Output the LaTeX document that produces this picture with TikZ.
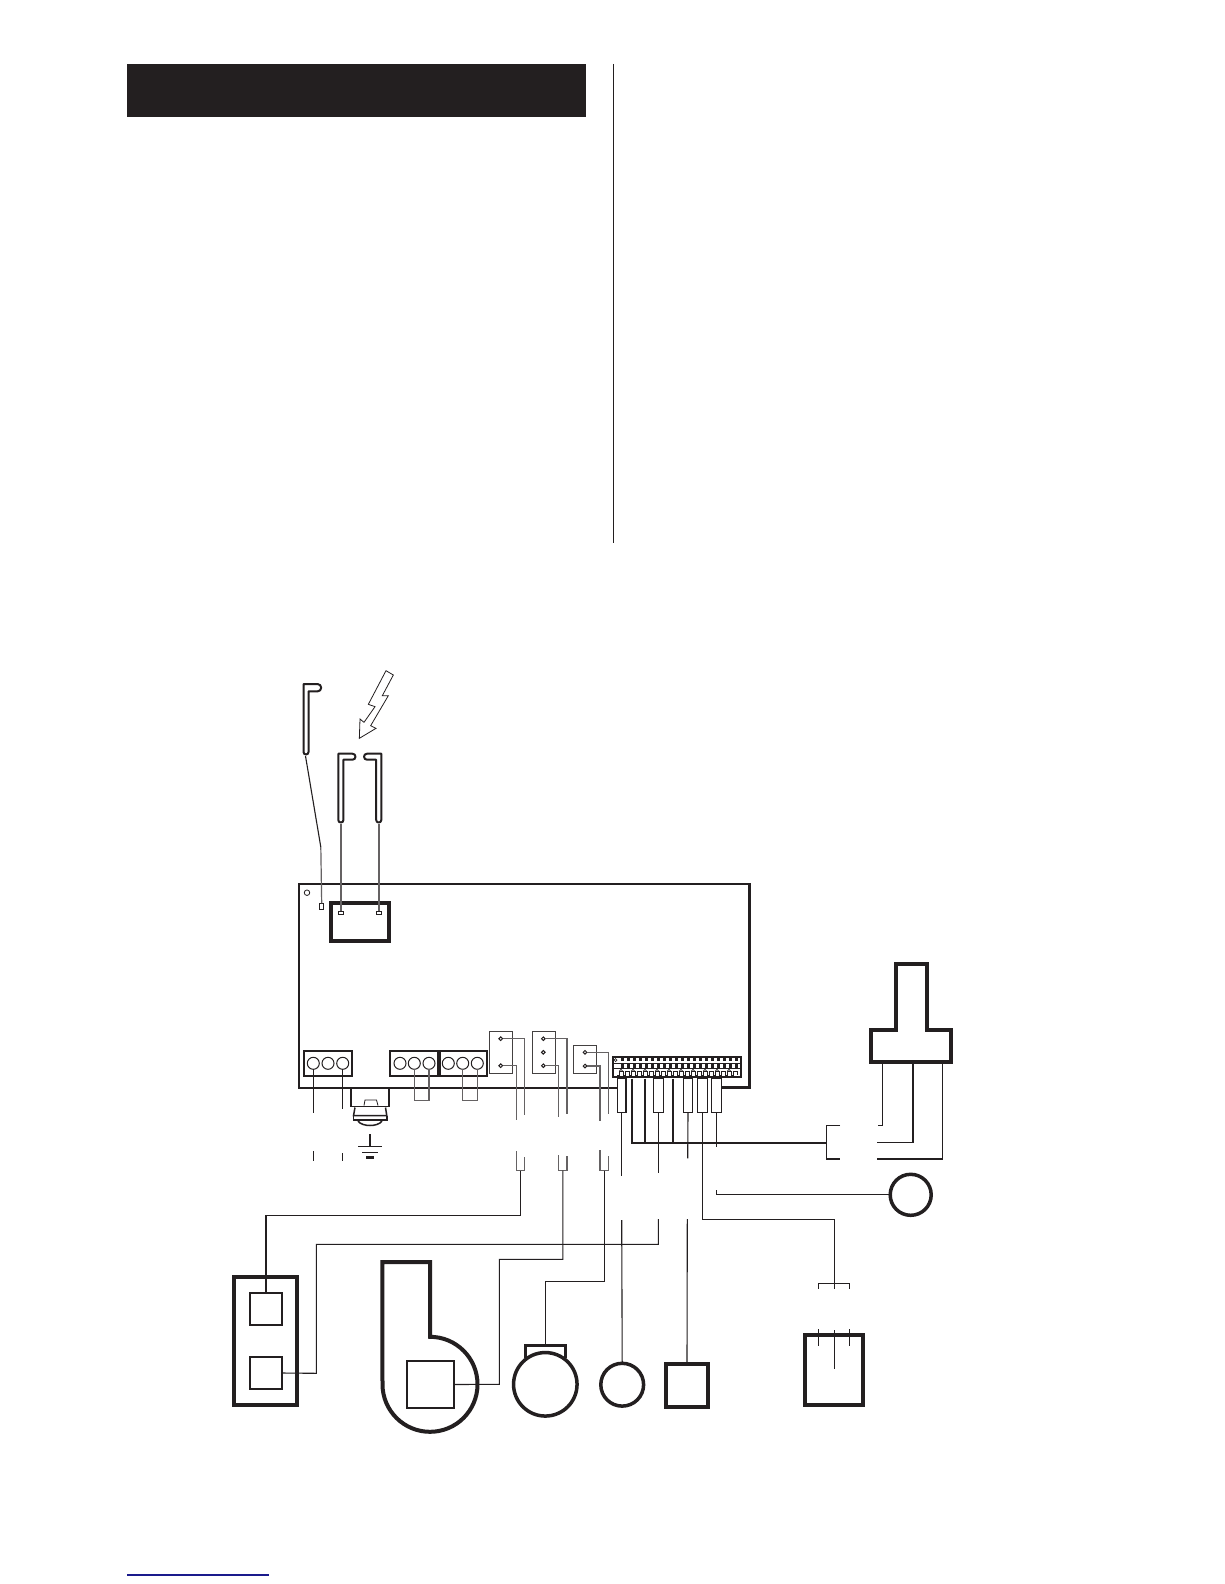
\documentclass[tikz,border=0pt]{standalone}
\definecolor{ink}{HTML}{231F20}
\definecolor{linkblue}{HTML}{1A1A8C}
\tikzset{
	wire/.style={draw=ink, line width=1.1pt},
	greywire/.style={draw=ink!70, line width=1.2pt},
	heavywire/.style={draw=ink, line width=1.8pt},
	part/.style={draw=ink, fill=white, rectangle, inner sep=0pt, outer sep=0pt, line width=4pt},
	thinpart/.style={part, line width=2pt},
	socket/.style={part, line width=1.3pt, draw=ink!85},
	tabbox/.style={part, line width=1.3pt},
	round/.style={part, circle, line width=3.5pt},
	term/.style={draw=ink, fill=white, circle, inner sep=0pt, outer sep=0pt, minimum size=12pt, line width=1pt},
	pin/.style={draw=ink, fill=white, circle, inner sep=0pt, outer sep=0pt, minimum size=3.6pt, line width=1pt},
	probe/.style={draw=ink, fill=white, line width=2pt, line join=round},
}
\begin{document}
\begin{tikzpicture}[x=1pt, y=-1pt, line join=miter, line cap=butt]
	\path[use as bounding box, fill=white] (0,0) rectangle (1224,1584);
	% top of the page
	\path[fill=ink] (127,64) rectangle (586,117);
	\draw[ink, line width=1.3pt] (613.3,64)--(613.3,542.7);
	\draw[linkblue, line width=1.2pt] (127,1575)--(269,1575);
	% probes
	\draw[probe] (303.5,752) -- (303.5,684) -- (317.5,684) arc[start angle=90, end angle=-90, radius=3.7pt] -- (308.5,691.4) -- (308.5,752) arc[start angle=0, end angle=-180, radius=2.5pt] -- cycle;
	\draw[probe] (338.3,820) -- (338.3,753.7) -- (352.5,753.7) arc[start angle=90, end angle=-90, radius=3pt] -- (343.4,759.7) -- (343.4,820) arc[start angle=0, end angle=-180, radius=2.55pt] -- cycle;
	\draw[probe] (381.3,820) -- (381.3,753.7) -- (367,753.7) arc[start angle=90, end angle=270, radius=3pt] -- (376.2,759.7) -- (376.2,820) arc[start angle=180, end angle=360, radius=2.55pt] -- cycle;
	\draw[ink, line width=.8pt, fill=white] (350+108/3,665+17/3) -- (350+130/3,665+30/3) -- (350+97/3,665+92/3) -- (350+115/3,665+92/3) -- (350+62/3,665+182/3) -- (350+78/3,665+190/3) -- (350+28/3,665+220/3) -- (350+30/3,665+162/3) -- (350+42/3,665+172/3) -- (350+75/3,665+125/3) -- (350+55/3,665+118/3) -- cycle;
	% board
	\draw[ink, line width=1.8pt] (617.7,1087.7) -- (299,1087.7) -- (299,884) -- (749,884);
	\draw[ink, line width=3pt] (749,883) -- (749,1087.7) -- (721.7,1087.7);
	\node[draw=ink, circle, inner sep=0pt, minimum size=5.5pt, line width=.8pt] (hole) at (307,892.7) {};
	\node[part, minimum width=57.4, minimum height=37.4] (ignbox) at (360,922) {};
	\node[tabbox, line width=.8pt, minimum width=4, minimum height=6] (senspin) at (321.7,906.3) {};
	\node[tabbox, line width=.8pt, minimum width=5.4, minimum height=3.3] (ignL) at (341,912.7) {};
	\node[tabbox, line width=.8pt, minimum width=5.4, minimum height=3.3] (ignR) at (379,912.7) {};
	\path (320.8,847) coordinate (bend);
	\draw[wire] (305.5,756) -- (bend);
	\draw[greywire] (bend) -- (senspin.north);
	\draw[greywire] (341,824) -- (ignL.north);
	\draw[greywire] (379,824) -- (ignR.north);
	% terminal blocks
	\node[thinpart, minimum width=48, minimum height=25.6] (blockA) at (328.3,1063.5) {};
	\node[thinpart, minimum width=47.6, minimum height=25.6] (blockB) at (414,1063.5) {};
	\node[thinpart, minimum width=47.6, minimum height=25.6] (blockC) at (463.5,1063.5) {};
	\foreach \p/\x in {a/313.3,b/328,c/342.7,d/400,e/414.3,f/429,g/448.3,h/462.7,i/477.3}
	\node[term] (t\p) at (\x,1063.3) {};
	\draw[wire] (ta.south) -- (313.3,1113.3) (tc.south) -- (342.7,1109.3);
	\draw[wire] (313.3,1151) -- (313.3,1160.7) (342.7,1153.3) -- (342.7,1160.7);
	\draw[greywire] (te.south) -- (414.3,1100.7) -- (429,1100.7) -- (tf.south);
	\draw[greywire] (th.south) -- (462.7,1100.7) -- (477.3,1100.7) -- (ti.south);
	% earth
	\draw[ink, line width=1.8pt] (350.7,1087.7) -- (350.7,1106.5) -- (389.3,1106.5) -- (389.3,1087.7);
	\draw[ink, line width=.8pt] (364,1105.5) -- (365,1100) -- (376.5,1100) -- (378,1105.5);
	\draw[ink, line width=1.5pt] (355,1107.5) .. controls (353.5,1111) .. (353.5,1115.7) -- (386.8,1115.7) .. controls (386.8,1111) .. (385.5,1107.5);
	\draw[ink, line width=1.5pt] (353.5,1115.7) -- (353.5,1120) -- (386.8,1120) -- (386.8,1115.7);
	\draw[ink, line width=1.5pt] (358,1121) .. controls (362,1127) and (378,1127) .. (382,1121);
	\draw[ink, line width=1.4pt] (370,1134.3) -- (370,1146.7) (358.3,1146.7) -- (381.7,1146.7) (362.3,1152.3) -- (378.3,1152.3);
	\draw[ink, line width=2.4pt] (366.3,1157.3) -- (374,1157.3);
	% sockets
	\node[socket, minimum width=23, minimum height=41.6] (sockA) at (500.8,1052.5) {};
	\node[socket, minimum width=23, minimum height=41.6] (sockB) at (543.8,1052.5) {};
	\node[socket, minimum width=23.4, minimum height=28] (sockC) at (585,1059.3) {};
	\foreach \p/\x/\y in {a/500.7/1038.7,b/500.7/1065.7,c/543.3/1038.7,d/543.3/1052.3,e/543.3/1065.7,f/585/1052.3,g/585/1066}
	\node[pin] (p\p) at (\x,\y) {};
	\foreach \p/\x/\y in {a/524.3/1115,b/516.3/1120,c/567/1114.3,e/558.7/1116.7,f/608.7/1114.3,g/600/1120.7}
	\draw[greywire] (p\p.east) -| (\x,\y);
	% plugs under the gap
	\foreach \p/\xa/\ya/\xb/\yb in {a/516.3/1151/524.3/1156.7,b/558.7/1155.3/567/1156,c/600/1150/608.7/1155.7}
	{
		\draw[greywire] (\xa,\ya) -- (\xa,1170.7) -- (\xb,1170.7) -- (\xb,\yb);
		\path ({(\xa+\xb)/2},1170.7) coordinate (plug\p);
	}
	% connector strip
	\node[thinpart, minimum width=128.6, minimum height=20.6] (strip) at (677,1067) {};
	\draw[ink, line width=.9pt] (strip.west |- 0,1063) -- (strip.east |- 0,1063) (strip.west |- 0,1068.5) -- (strip.east |- 0,1068.5);
	\foreach \n in {0,...,19}
	{
		\path[fill=ink] ({621+6*\n},1057) rectangle ++(3,3.5);
		\path[fill=ink] ({621+6*\n},1063.5) rectangle ++(3,4);
		\draw[ink, line width=.7pt] ({617+6*\n},1075) -- ++(2,0) -- ++(0,-4) -- ++(4,0) -- ++(0,4);
	}
	\foreach \n in {0,...,9}
	\draw[ink, line width=.7pt] ({619.5+12*\n},1071) -- ++(1.5,-1.8) -- ++(1.5,1.8);
	\node[draw=ink, circle, inner sep=0pt, minimum size=3pt, line width=.7pt, fill=white] (stripdot) at (615.5,1060) {};
	% tabs under the strip
	\foreach \p/\x/\w in {a/621.7/8.6,b/658.3/10,c/688/9.4,d/702.3/10,e/716.7/10}
	\node[tabbox, minimum width=\w, minimum height=34.3] (tab\p) at (\x,1095.2) {};
	\draw[heavywire] (632.3,1078.5) -- (632.3,1142.7) -- (826.7,1142.7);
	\draw[heavywire] (645,1078.5) -- (645,1142.7) (673,1078.5) -- (673,1142.7);
	\draw[wire] (taba.south) -- (621.7,1175.7);
	\draw[wire] (tabb.south) -- (658.3,1172.7);
	\draw[wire] (tabc.south) -- (687.7,1158.3);
	\draw[wire] (tabe.south) -- (716.7,1146.7);
	\draw[wire] (tabd.south) -- (702.3,1219.3) -| (834.3,1289);
	% pressure switch
	\draw[ink, line width=4pt] (896.3,1030.3) -- (896.3,964.3) -- (926.7,964.3) -- (926.7,1030.3) -- (950.7,1030.3) -- (950.7,1062) -- (871,1062) -- (871,1030.3) -- cycle;
	\draw[wire] (840,1125.7) -- (826.7,1125.7) -- (826.7,1159) -- (840,1159);
	\draw[wire, line width=1.4pt] (882.7,1064) -- (882.7,1125.7) -- (878.3,1125.7);
	\draw[wire, line width=1.4pt] (913,1064) -- (913,1142.7) -- (877,1142.7);
	\draw[wire, line width=1.4pt] (942.3,1064) -- (942.3,1159) -- (877,1159);
	\node[round, minimum size=41] (gauge) at (910.7,1194.8) {};
	\draw[wire] (716.7,1190) |- (gauge.west);
	% parts at the bottom
	\node[part, minimum width=62.4, minimum height=127.4] (ctrlbox) at (265.5,1341) {};
	\node[thinpart, minimum width=31.4, minimum height=31.4] (valveA) at (266,1309) {};
	\node[thinpart, minimum width=31.4, minimum height=32] (valveB) at (266,1373) {};
	\draw[ink, line width=4pt, fill=white] (382.3,1262) -- (430,1262) -- (430,1336.8) arc[start angle=90, end angle=-180, radius=47.5pt] -- cycle;
	\node[thinpart, minimum width=46.7, minimum height=46.4] (fan) at (430.3,1384.5) {};
	\draw[ink, line width=3pt] (525.7,1358) -- (525.7,1345.5) -- (565.3,1345.5) -- (565.3,1358);
	\node[round, minimum size=63.5] (motor) at (545.3,1384.3) {};
	\node[round, minimum size=42.8] (lamp) at (622.2,1384.7) {};
	\node[part, minimum width=42, minimum height=43] (relay) at (687,1385.5) {};
	\node[part, minimum width=58, minimum height=70.6] (plugbox) at (834,1370) {};
	\draw[wire] (818.3,1288.7) -- (818.3,1283.3) -- (849.3,1283.3) -- (849.3,1288.7);
	\draw[wire] (818.3,1329.3) -- (818.3,1345.7) (834.3,1330.3) -- (834.3,1368.7) (849.3,1329.3) -- (849.3,1345.7);
	% long runs
	\path (520.3,1215.3) coordinate (cornerA) (658.3,1244.3) coordinate (cornerB) (316.3,1373.3) coordinate (cornerC);
	\draw[wire] (plugc) -- (plugc |- 0,1281.3) -| (545.3,1344);
	\draw[wire] (plugb) -- (plugb |- 0,1259.3) -| (499.3,1384.3) -- (fan.east);
	\draw[wire] (pluga) -- (cornerA) -| (valveA.north);
	\draw[wire] (658.3,1219) -- (cornerB) -| (cornerC) -- (valveB.east);
	\draw[wire] (621.7,1220) -- (lamp.north);
	\draw[wire] (687.3,1219) -- (relay.north);
\end{tikzpicture}
\end{document}
